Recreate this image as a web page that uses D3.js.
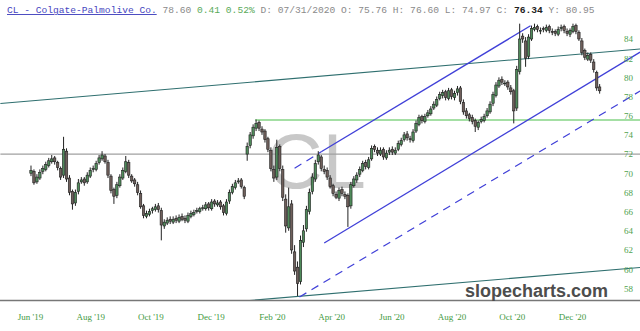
<!DOCTYPE html>
<html><head><meta charset="utf-8">
<script src="https://cdn.jsdelivr.net/npm/d3@7"></script>
<style>body{margin:0;background:#fff}svg{display:block}</style>
</head><body><svg id="c" width="640" height="331"></svg>
<script>
// ---- data ----
const startDate = "2019-06-02";
const stepDays = 3;
const opens = [
70.0,70.2,69.1,69.5,70.2,70.4,70.8,71.2,71.6,71.1,
70.5,69.8,72.3,69.5,68.1,66.9,68.1,69.1,69.4,69.1,
69.7,70.4,70.4,71.1,71.5,71.8,71.1,69.7,68.3,67.7,
68.7,69.5,70.2,71.1,69.7,69.3,68.8,67.9,66.6,65.5,
65.7,66.1,66.2,66.6,66.1,64.5,64.8,65.2,64.9,65.3,
65.0,65.5,65.3,65.0,65.5,65.7,66.0,66.0,66.4,66.3,
66.8,66.3,67.1,66.7,67.0,66.6,65.8,67.1,68.0,68.5,
69.1,69.3,68.5,72.0,72.9,73.9,74.7,75.3,74.6,74.4,
73.6,72.4,70.4,69.6,72.8,70.4,67.3,64.3,66.8,61.8,
60.2,58.7,62.8,64.2,66.0,68.1,69.4,71.2,71.7,70.4,
70.3,69.5,68.7,67.8,67.4,68.3,67.8,67.7,66.6,68.7,
69.3,69.9,70.3,71.1,70.6,71.5,72.8,72.4,72.0,72.5,
71.6,72.2,72.5,72.1,72.5,73.0,73.5,74.1,73.6,73.4,
74.4,75.1,75.9,75.4,76.0,76.2,76.8,77.1,77.8,78.1,
78.5,77.8,78.7,77.9,78.4,78.9,77.4,76.5,76.1,75.8,
75.5,74.8,75.4,75.5,76.0,76.4,77.3,78.1,79.1,79.8,
79.4,79.5,78.9,78.6,76.8,80.6,84.3,83.8,82.2,84.0,
85.0,85.3,84.9,85.1,84.9,85.3,84.8,84.8,84.5,85.1,
85.3,84.8,84.5,84.8,85.4,84.7,83.8,82.8,81.9,82.4,
81.6,80.5,79.0];
const highs = [
70.8,70.4,69.9,70.4,70.8,71.2,71.6,71.9,71.8,71.3,
70.7,73.8,72.6,69.8,68.3,68.3,69.4,69.6,69.6,70.1,
70.6,70.8,71.3,71.9,72.3,72.0,71.4,69.9,68.5,69.1,
69.9,70.6,71.8,71.4,69.9,69.5,69.1,68.2,66.8,66.1,
66.3,66.5,66.8,66.9,66.4,65.2,65.4,65.5,65.5,65.6,
65.7,65.8,65.6,65.9,66.1,66.2,66.4,66.5,66.7,67.0,
67.0,67.3,67.3,67.2,67.2,66.8,67.3,68.3,68.9,69.3,
69.5,69.5,68.7,73.2,74.3,75.1,75.6,75.5,74.9,74.6,
73.8,72.7,70.8,73.5,73.0,70.8,67.8,68.5,67.2,62.5,
60.8,63.5,64.6,66.6,68.4,70.0,71.4,72.3,71.9,70.8,
70.6,69.8,68.9,68.1,68.5,68.6,68.1,67.9,69.1,69.7,
70.1,70.7,71.3,71.4,71.7,72.9,73.0,72.7,72.7,72.7,
72.4,72.7,72.8,72.7,73.4,73.7,74.3,74.4,73.9,74.6,
75.5,76.1,76.1,76.2,76.6,77.0,77.5,78.0,78.5,78.7,
78.7,78.9,78.9,78.6,79.1,79.1,77.7,76.8,76.3,76.1,
75.7,75.5,75.9,76.2,76.8,77.5,78.5,79.5,80.0,80.1,
79.7,79.7,79.2,78.8,81.2,85.6,84.6,84.2,84.5,85.4,
85.6,85.5,85.2,85.3,85.5,85.5,85.1,85.0,85.3,85.5,
85.5,85.1,85.1,85.6,85.6,84.9,84.1,83.0,82.6,82.6,
81.9,80.7,79.3];
const lows = [
69.7,68.8,68.9,69.3,69.9,70.2,70.6,71.0,70.9,70.3,
69.3,69.5,69.1,67.7,66.2,66.6,67.8,68.9,68.7,68.9,
69.5,70.1,70.2,70.9,71.3,71.0,69.5,67.9,66.8,67.4,
68.5,69.3,70.0,69.5,69.0,68.6,67.7,66.3,65.3,65.3,
65.5,65.8,66.0,65.9,63.0,64.2,64.6,64.7,64.7,64.8,
64.8,65.0,64.8,64.8,65.3,65.5,65.8,65.8,66.1,66.1,
66.1,66.1,66.5,66.5,66.2,65.6,65.6,66.8,67.8,68.3,
68.9,68.4,67.3,71.3,72.6,73.6,74.4,74.4,74.0,73.2,
72.2,70.2,69.1,69.3,70.2,67.1,63.8,64.0,61.6,59.4,
57.2,58.4,62.3,63.9,65.7,67.8,69.1,70.9,70.2,69.9,
69.3,68.4,67.6,67.3,67.1,67.6,67.3,64.4,66.3,68.5,
69.0,69.6,70.1,70.4,70.4,71.3,72.2,71.8,71.8,71.4,
71.4,71.9,71.9,71.9,72.3,72.8,73.3,73.4,73.2,73.2,
74.2,74.9,75.2,75.2,75.8,76.0,76.6,76.9,77.6,77.8,
77.6,77.6,77.7,77.6,78.1,77.2,76.1,75.7,75.4,75.1,
74.3,74.5,75.2,75.3,75.8,76.2,77.0,77.9,78.9,79.2,
79.1,78.7,78.2,75.2,76.5,80.3,83.6,81.1,81.9,83.8,
84.8,84.7,84.5,84.7,84.7,84.6,84.4,84.3,84.3,84.8,
84.6,84.3,84.2,84.6,84.5,83.8,82.3,81.8,81.7,81.5,
80.5,78.6,78.3];
const closes = [
70.3,69.0,69.6,70.1,70.5,70.9,71.3,71.5,71.2,70.6,
69.6,72.5,69.4,68.0,66.8,68.0,69.0,69.3,69.0,69.8,
70.3,70.5,71.0,71.6,71.9,71.2,69.8,68.2,67.6,68.8,
69.6,70.3,71.2,69.8,69.2,68.9,68.0,66.5,65.6,65.8,
66.0,66.3,66.5,66.2,64.6,64.9,65.1,65.0,65.2,65.1,
65.4,65.2,65.1,65.6,65.8,65.9,66.1,66.3,66.4,66.7,
66.4,67.0,66.8,66.9,66.5,65.9,67.0,68.0,68.6,69.0,
69.2,68.6,67.6,72.8,74.0,74.8,75.2,74.7,74.3,73.5,
72.5,70.5,69.5,72.7,70.5,67.5,64.5,66.5,62.0,59.8,
58.5,63.0,64.0,66.2,68.0,69.6,71.0,71.9,70.5,70.2,
69.6,68.6,67.9,67.5,68.2,67.9,67.6,66.5,68.8,69.4,
69.8,70.4,71.0,70.7,71.4,72.6,72.5,72.1,72.4,71.7,
72.1,72.4,72.2,72.4,73.1,73.4,74.0,73.7,73.5,74.3,
75.2,75.8,75.5,75.9,76.3,76.7,77.2,77.7,78.2,78.4,
77.9,78.6,78.0,78.3,78.8,77.5,76.4,76.0,75.7,75.4,
74.9,75.3,75.6,75.9,76.5,77.2,78.2,79.2,79.7,79.5,
79.4,79.0,78.5,76.5,80.8,84.0,84.0,82.0,84.2,85.1,
85.2,85.0,84.9,85.0,85.2,84.9,84.7,84.6,85.0,85.2,
84.9,84.6,84.9,85.3,84.8,84.0,82.6,82.1,82.3,81.8,
80.8,78.9,78.6];

const yTicks = [58,60,62,64,66,68,70,72,74,76,78,80,82,84];
const xTickDates = ["2019-06-01","2019-08-01","2019-10-01","2019-12-01","2020-02-01","2020-04-01","2020-06-01","2020-08-01","2020-10-01","2020-12-01"];

const grayLevel = [["2019-05-02",72],["2021-02-08",72]];
const greenLevel = [["2020-01-15",75.55],["2021-02-08",75.55]];
const tealUpper = [["2019-05-02",77.27],["2021-02-08",82.96]];
const tealLower = [["2019-12-01",56.38],["2021-02-08",60.17]];
const blueUpperDash = [["2020-02-24",70.52],["2020-03-22",72.24]];
const blueUpper = [["2020-03-22",72.24],["2020-10-20",85.38]];
const blueLower = [["2020-03-25",62.72],["2021-02-08",82.63]];
const blueLowerDash = [["2020-02-29",57.09],["2021-02-08",78.58]];

const titleParts = [
  ["CL - Colgate-Palmolive Co.", "name"],
  ["78.60", "gray"],
  ["0.41 0.52%", "green"],
  ["D: 07/31/2020 O: 75.76 H: 76.60 L: 74.97 C:", "gray"],
  ["76.34", "bold"],
  ["Y: 80.95", "gray"]
];

// ---- chart ----
const parse = d3.timeParse("%Y-%m-%d");
const svg = d3.select("#c");
const x = d3.scaleTime().domain([parse("2019-06-01"), parse("2020-12-01")]).range([30, 572]);
const y = d3.scaleLinear().domain([58, 84]).range([288.3, 39]);

svg.append("defs").append("clipPath").attr("id","plot")
  .append("rect").attr("x",0).attr("y",18).attr("width",640).attr("height",282);

const plot = svg.append("g").attr("clip-path","url(#plot)");

// watermark
plot.append("text").attr("x", 316).attr("y", 188)
  .attr("text-anchor","middle")
  .attr("font-family","Liberation Sans, Arial, sans-serif")
  .attr("font-size", 78)
  .attr("fill","#c8c8c8")
  .text("CL");

const line = d3.line().x(d => x(parse(d[0]))).y(d => y(d[1]));
function seg(data, color, width, dash) {
  const p = plot.append("path").attr("d", line(data)).attr("fill","none")
    .attr("stroke", color).attr("stroke-width", width);
  if (dash) p.attr("stroke-dasharray", dash);
}
seg(grayLevel, "#a0a0a0", 1.2);
seg(tealUpper, "#2f6f6f", 1.1);
seg(tealLower, "#2f6f6f", 1.1);
seg(greenLevel, "#86d486", 1.3);
seg(blueUpperDash, "#4040d8", 1.2, "8,6");
seg(blueUpper, "#4040d8", 1.3);
seg(blueLower, "#4040d8", 1.3);
seg(blueLowerDash, "#4040d8", 1.2, "8,6");

// candles
const t0 = parse(startDate);
const bars = closes.map((c, i) => ({
  date: d3.timeDay.offset(t0, i * stepDays),
  o: opens[i], h: highs[i], l: lows[i], c: c
}));
const cg = plot.append("g");
cg.selectAll("line").data(bars).join("line")
  .attr("x1", d => x(d.date)).attr("x2", d => x(d.date))
  .attr("y1", d => y(Math.max(d.h, d.o, d.c))).attr("y2", d => y(Math.min(d.l, d.o, d.c)))
  .attr("stroke", "#222").attr("stroke-width", 1);
const bw = 2.4;
cg.selectAll("rect").data(bars).join("rect")
  .attr("x", d => x(d.date) - bw/2)
  .attr("width", bw)
  .attr("y", d => y(Math.max(d.o, d.c)))
  .attr("height", d => Math.max(0.8, Math.abs(y(d.o) - y(d.c))))
  .attr("fill", d => d.c >= d.o ? "#4f8a5a" : "#6f5f5b")
  .attr("stroke", "#1e1e1e").attr("stroke-width", 0.6);

// x axis line
svg.append("line").attr("x1",0).attr("x2",640).attr("y1",300.5).attr("y2",300.5)
  .attr("stroke","#777").attr("stroke-width",1.5);

// x axis labels
const fmt = d3.timeFormat("%b '%y");
const xa = svg.append("g").attr("transform","translate(0,300)")
  .call(d3.axisBottom(x).tickValues(xTickDates.map(parse)).tickFormat(fmt).tickSize(0).tickPadding(14));
xa.select(".domain").remove();
xa.selectAll("text").attr("font-family","Liberation Serif, serif").attr("font-size",9).attr("fill","#3f9a3f");

// y axis labels
const ya = svg.append("g").attr("transform","translate(624,0)")
  .call(d3.axisRight(y).tickValues(yTicks).tickSize(0).tickPadding(0));
ya.select(".domain").remove();
ya.selectAll("text").attr("font-family","Liberation Serif, serif").attr("font-size",9).attr("fill","#4fa24f");

// title: each part placed at its monospace column
const charW = 5.76;
const tg = svg.append("g").attr("font-family","Liberation Mono, monospace").attr("font-size",9.6);
const styles = {
  name: {fill:"#4646c0", deco:"underline", weight:"normal"},
  gray: {fill:"#8a8a8a", deco:"none", weight:"normal"},
  green:{fill:"#5aaa5a", deco:"none", weight:"normal"},
  bold: {fill:"#222", deco:"none", weight:"bold"}
};
let col = 0;
titleParts.forEach(([txt, st]) => {
  const s = styles[st];
  tg.append("text").attr("x", 7 + col * charW).attr("y", 13)
    .attr("fill", s.fill).attr("text-decoration", s.deco).attr("font-weight", s.weight)
    .text(txt);
  col += txt.length + 1;
});

// site watermark
svg.append("text").attr("x",608).attr("y",297).attr("text-anchor","end")
  .attr("font-family","Liberation Sans, Arial, sans-serif").attr("font-weight","bold")
  .attr("font-size",18).attr("fill","#4d4d4d").text("slopecharts.com");
</script></body></html>
